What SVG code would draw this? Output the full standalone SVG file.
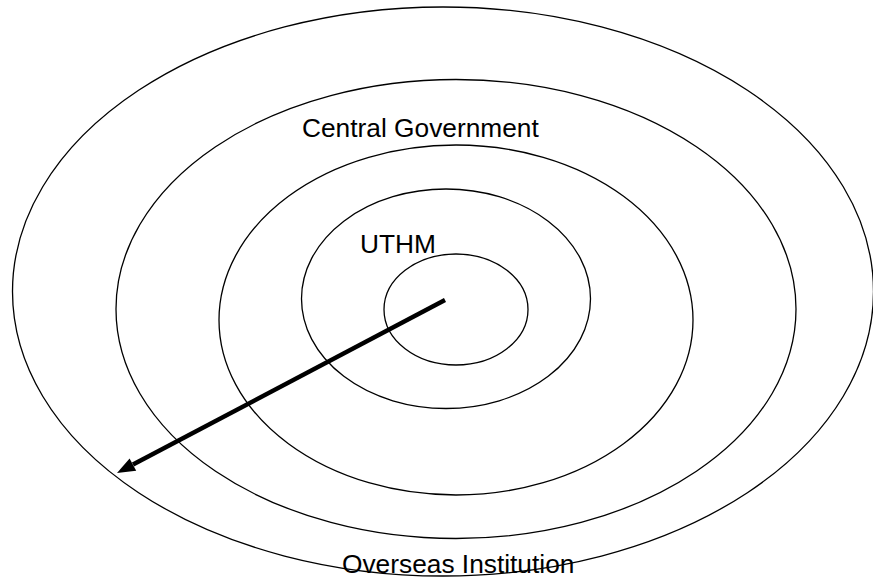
<svg xmlns="http://www.w3.org/2000/svg" width="873" height="579" viewBox="0 0 873 579">
<style>
.ring{fill:none;stroke:#000;stroke-width:1.3}
.lbl{font-family:"Liberation Sans",Arial,sans-serif;font-size:26.3px;fill:#000}
</style>
<rect width="873" height="579" fill="#fff"/>
<g id="ring-outer"><ellipse class="ring" cx="443" cy="291.5" rx="430.5" ry="284.5"/></g>
<g id="ring-2"><ellipse class="ring" cx="456" cy="309" rx="340" ry="229.5"/></g>
<g id="ring-3"><ellipse class="ring" cx="456" cy="320" rx="237" ry="175"/></g>
<g id="ring-4"><ellipse class="ring" cx="446" cy="298.75" rx="144.5" ry="109.75"/></g>
<g id="ring-inner"><ellipse class="ring" cx="456" cy="309.5" rx="72" ry="55.5"/></g>
<g id="labels">
<text class="lbl" x="302" y="136.5">Central Government</text>
<text class="lbl" x="360" y="253">UTHM</text>
<text class="lbl" x="342" y="573">Overseas Institution</text>
</g>
<g id="connectors">
<line x1="445" y1="300" x2="133" y2="464.6" stroke="#000" stroke-width="4.5"/>
<polygon points="117,473 129.6,458.4 136.2,470.8" fill="#000"/>
</g>
</svg>
